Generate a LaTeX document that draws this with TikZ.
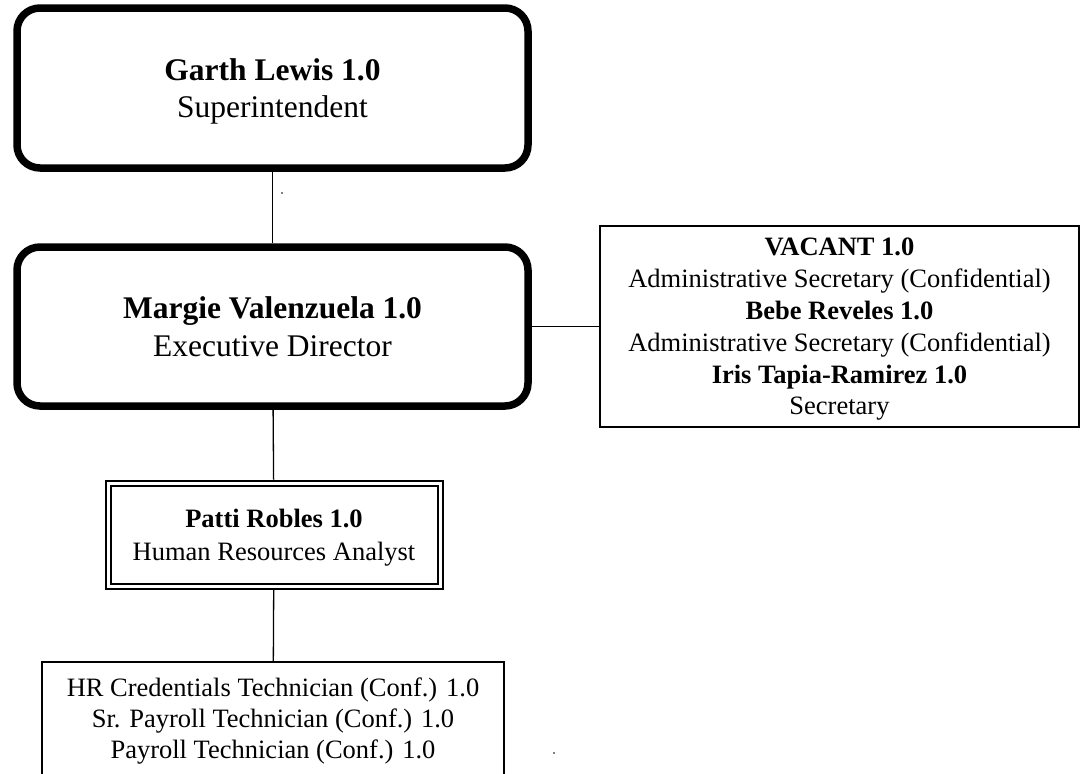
\documentclass[tikz,border=0pt]{standalone}
\usepackage{fontspec}
\setmainfont{Liberation Serif}
\usepackage{tikz}

\begin{document}
\begin{tikzpicture}[x=1pt, y=-1pt,
  chief/.style={draw, line width=7.5pt, rounded corners=23pt, minimum width=511pt, minimum height=160pt, align=center, font=\fontsize{31.5}{37.5}\selectfont},
  staff/.style={draw, line width=2pt, align=center, font=\fontsize{26.5}{31.8}\selectfont},
  link/.style={line width=1.3pt}
]
\useasboundingbox (0,0) rectangle (1082,774);

% Superintendent and Executive Director
\node[chief, text depth=-1pt] (lewis) at (272.5,88) {\textbf{Garth Lewis 1.0}\\Superintendent};
\node[chief, minimum height=159pt] (valenzuela) at (272.5,326.5) {\textbf{Margie Valenzuela 1.0}\\Executive Director};

% Secretaries
\node[staff, text depth=-3pt, minimum width=479pt, minimum height=201pt] (secs) at (839.5,326.5) {\textbf{VACANT 1.0}\\Administrative Secretary (Confidential)\\\textbf{Bebe Reveles 1.0}\\Administrative Secretary (Confidential)\\\textbf{Iris Tapia-Ramirez 1.0}\\Secretary};

% HR analyst and technicians
\node[staff, text depth=-2pt, double, double distance=3pt, outer sep=3.5pt, minimum width=332pt, minimum height=103pt, font=\fontsize{26.5}{33}\selectfont] (robles) at (274,534.5) {\textbf{Patti Robles 1.0}\\Human Resources Analyst};
\node[staff, line width=2.5pt, minimum width=462pt, minimum height=118pt, font=\fontsize{26.5}{31}\selectfont] (techs) at (273,721) {HR Credentials Technician (Conf.) 1.0\\Sr. Payroll Technician (Conf.) 1.0\\Payroll Technician (Conf.) 1.0};

\draw[link] (lewis) -- (valenzuela);
\draw[link] (valenzuela) -- (secs);
\draw[link] (valenzuela) -- (robles);
\draw[link] (robles) -- (techs);

% stray specks
\fill (282,193) circle (0.8);
\fill (554,753) circle (0.8);

\end{tikzpicture}
\end{document}
